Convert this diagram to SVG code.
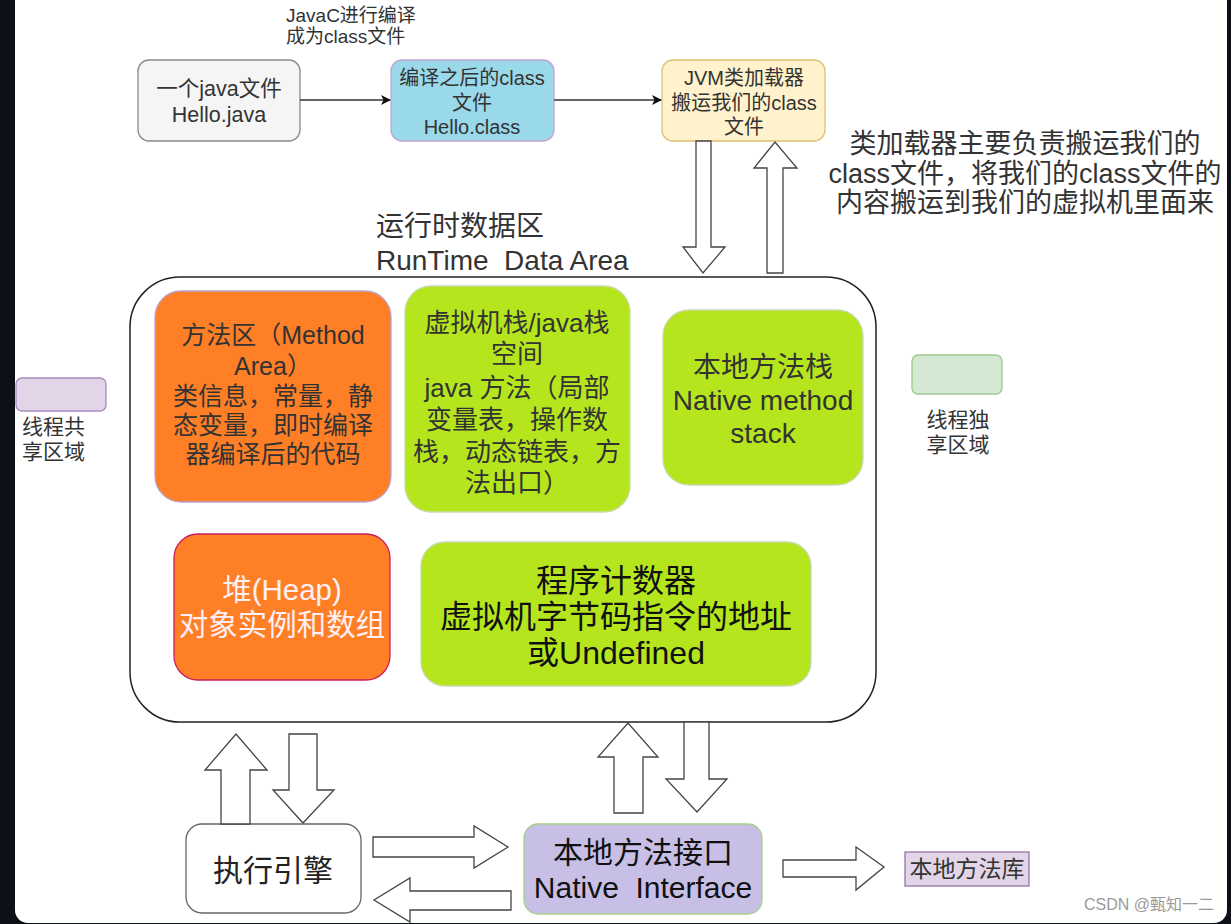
<svg xmlns="http://www.w3.org/2000/svg" width="1231" height="924" viewBox="0 0 1231 924">
<style>
text{font-family:'Liberation Sans','Noto Sans CJK SC',sans-serif;fill:#333}
.c{text-anchor:middle}
.blk{fill:#fff;stroke:#444;stroke-width:1.3}
</style>
<defs>
<marker id="ah" markerWidth="10" markerHeight="10" refX="9" refY="5" orient="auto" markerUnits="userSpaceOnUse">
<path d="M0,0 L10,5 L0,10 L2.5,5 Z" fill="#111"/>
</marker>
</defs>
<rect x="0" y="0" width="1231" height="924" fill="#0d1117"/>
<rect x="15" y="-20" width="1212" height="943" rx="13" fill="#fff"/>

<g id="label-javac">
<text x="286" y="21.5" font-size="19">JavaC进行编译</text>
<text x="286" y="42.5" font-size="19">成为class文件</text>
</g>

<g id="node-java">
<rect x="138" y="60" width="162" height="81" rx="11" fill="#f5f5f5" stroke="#8a8a8a" stroke-width="1.3"/>
<text class="c" x="219" y="95.5" font-size="21.5">一个java文件</text>
<text class="c" x="219" y="121.5" font-size="21.5">Hello.java</text>
</g>

<g id="node-class">
<rect x="391" y="60" width="163" height="81" rx="11" fill="#99d9ea" stroke="#c3a3cf" stroke-width="1.3"/>
<text class="c" x="472" y="85" font-size="20">编译之后的class</text>
<text class="c" x="472" y="110" font-size="20">文件</text>
<text class="c" x="472" y="134" font-size="20">Hello.class</text>
</g>

<g id="node-loader">
<rect x="662" y="60" width="163" height="81" rx="11" fill="#fff2cc" stroke="#e0c070" stroke-width="1.3"/>
<text class="c" x="744" y="85" font-size="20">JVM类加载器</text>
<text class="c" x="744" y="110" font-size="20">搬运我们的class</text>
<text class="c" x="744" y="134" font-size="20">文件</text>
</g>

<g id="note-loader">
<text class="c" x="1025" y="152.5" font-size="27">类加载器主要负责搬运我们的</text>
<text class="c" x="1025" y="182.5" font-size="27">class文件，将我们的class文件的</text>
<text class="c" x="1025" y="211.5" font-size="27">内容搬运到我们的虚拟机里面来</text>
</g>

<g id="label-rda">
<text x="376" y="236" font-size="28">运行时数据区</text>
<text x="376" y="270" font-size="28" xml:space="preserve">RunTime  Data Area</text>
</g>

<g id="runtime-data-area">
<rect x="130" y="277" width="746" height="445" rx="50" fill="#fff" stroke="#222" stroke-width="1.5"/>
</g>

<g id="node-method-area">
<rect x="155" y="291" width="236" height="211" rx="26" fill="#ff7f27" stroke="#b9a3d3" stroke-width="1.3"/>
<text class="c" x="273" y="344" font-size="25">方法区（Method</text>
<text class="c" x="273" y="375" font-size="25">Area）</text>
<text class="c" x="273" y="405" font-size="25">类信息，常量，静</text>
<text class="c" x="273" y="434" font-size="25">态变量，即时编译</text>
<text class="c" x="273" y="463" font-size="25">器编译后的代码</text>
</g>

<g id="node-vm-stack">
<rect x="405" y="286" width="225" height="226" rx="26" fill="#b5e61d" stroke="#c9d9b0" stroke-width="1.3"/>
<text class="c" x="517" y="332" font-size="26">虚拟机栈/java栈</text>
<text class="c" x="517" y="363" font-size="26">空间</text>
<text class="c" x="517" y="397" font-size="26">java 方法（局部</text>
<text class="c" x="517" y="429" font-size="26">变量表，操作数</text>
<text class="c" x="517" y="461" font-size="26">栈，动态链表，方</text>
<text class="c" x="517" y="492" font-size="26">法出口）</text>
</g>

<g id="node-native-stack">
<rect x="663" y="310" width="200" height="175" rx="26" fill="#b5e61d" stroke="#c9d9b0" stroke-width="1.3"/>
<text class="c" x="763" y="377" font-size="28">本地方法栈</text>
<text class="c" x="763" y="410" font-size="28">Native method</text>
<text class="c" x="763" y="443" font-size="28">stack</text>
</g>

<g id="node-heap">
<rect x="174" y="534" width="216" height="146" rx="24" fill="#ff7f27" stroke="#c8205a" stroke-width="1.3"/>
<text class="c" x="282" y="600" font-size="29.5" style="fill:#fff0f6">堆(Heap)</text>
<text class="c" x="282" y="635" font-size="29.5" style="fill:#fff0f6">对象实例和数组</text>
</g>

<g id="node-pc">
<rect x="421" y="542" width="390" height="144" rx="24" fill="#b5e61d" stroke="#c9d9b0" stroke-width="1.3"/>
<text class="c" x="616" y="592" font-size="32" style="fill:#111">程序计数器</text>
<text class="c" x="616" y="628" font-size="32" style="fill:#111">虚拟机字节码指令的地址</text>
<text class="c" x="616" y="664" font-size="32" style="fill:#111">或Undefined</text>
</g>

<g id="legend-shared">
<rect x="16" y="378" width="90" height="33" rx="6" fill="#e1d5e7" stroke="#a98bbd" stroke-width="1.3"/>
<text x="22" y="434" font-size="21">线程共</text>
<text x="22" y="459" font-size="21">享区域</text>
</g>

<g id="legend-private">
<rect x="912" y="355" width="90" height="39" rx="6" fill="#d5e8d4" stroke="#9cc98e" stroke-width="1.3"/>
<text class="c" x="958" y="427" font-size="21">线程独</text>
<text class="c" x="958" y="452" font-size="21">享区域</text>
</g>

<g id="node-exec-engine">
<rect x="186" y="824" width="175" height="89" rx="16" fill="#fff" stroke="#666" stroke-width="1.3"/>
<text class="c" x="273" y="881" font-size="30" style="fill:#222">执行引擎</text>
</g>

<g id="node-native-interface">
<rect x="524" y="824" width="238" height="90" rx="14" fill="#c8bfe7" stroke="#a7d08b" stroke-width="1.3"/>
<text class="c" x="643" y="863" font-size="30" style="fill:#111">本地方法接口</text>
<text class="c" x="643" y="898" font-size="30" style="fill:#111" xml:space="preserve">Native  Interface</text>
</g>

<g id="node-native-lib">
<rect x="905" y="852" width="124" height="34" fill="#e1d5e7" stroke="#9673a6" stroke-width="1.3"/>
<text class="c" x="967" y="877" font-size="23">本地方法库</text>
</g>

<g id="connectors">
<line x1="300" y1="100" x2="390" y2="100" stroke="#333" stroke-width="1.5" marker-end="url(#ah)"/>
<line x1="554" y1="100" x2="661" y2="100" stroke="#333" stroke-width="1.5" marker-end="url(#ah)"/>
<path class="blk" d="M696,141 L711,141 L711,247 L725,247 L703,273 L683,247 L696,247 Z"/>
<path class="blk" d="M767,273 L783,273 L783,168 L797,168 L775,142 L754,168 L767,168 Z"/>
<path class="blk" d="M221,824 L250,824 L250,770 L267,770 L236,734 L205,770 L221,770 Z"/>
<path class="blk" d="M289,734 L317,734 L317,790 L334,790 L303,823 L273,790 L289,790 Z"/>
<path class="blk" d="M373,837 L474,837 L474,826 L508,847 L474,868 L474,857 L373,857 Z"/>
<path class="blk" d="M511,891 L410,891 L410,878 L374,900 L410,922 L410,910 L511,910 Z"/>
<path class="blk" d="M614,813 L643,813 L643,757 L658,757 L628,723 L598,757 L614,757 Z"/>
<path class="blk" d="M684,722 L709,722 L709,779 L727,779 L697,812 L666,779 L684,779 Z"/>
<path class="blk" d="M783,860 L856,860 L856,847 L884,867 L856,890 L856,877 L783,877 Z"/>
</g>

<text x="1214" y="910" font-size="16" style="fill:#9a9a9a;text-anchor:end">CSDN @甄知一二</text>
</svg>
